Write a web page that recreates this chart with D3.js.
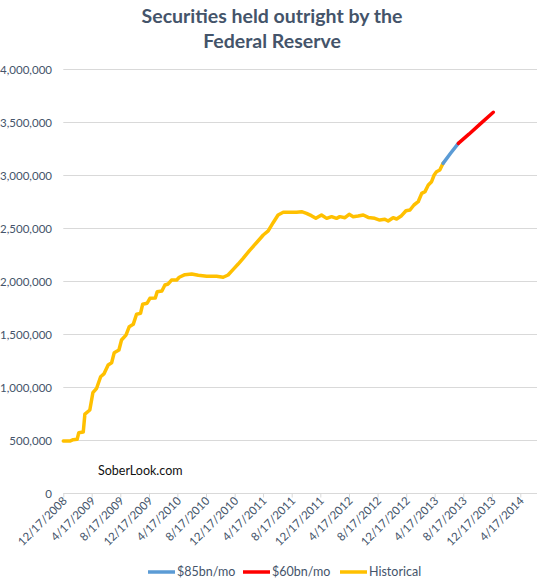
<!DOCTYPE html>
<html><head><meta charset="utf-8">
<script src="https://cdn.jsdelivr.net/npm/d3@7"></script>
<style>
html,body{margin:0;padding:0;background:#fff;}
svg{display:block;font-family:Lato,"Open Sans",sans-serif;}
</style></head>
<body>
<svg id="chart" width="537" height="582"></svg>
<script>
// ---- data (values in $ millions) ----
const titleLines = ["Securities held outright by the", "Federal Reserve"];
const yTicks = [0, 500000, 1000000, 1500000, 2000000, 2500000, 3000000, 3500000, 4000000];
const xTickLabels = ["12/17/2008","4/17/2009","8/17/2009","12/17/2009","4/17/2010","8/17/2010","12/17/2010","4/17/2011","8/17/2011","12/17/2011","4/17/2012","8/17/2012","12/17/2012","4/17/2013","8/17/2013","12/17/2013","4/17/2014"];
const seriesNames = ["$85bn/mo", "$60bn/mo", "Historical"];

const histDates = ["2008-12-17","2009-01-14","2009-01-28","2009-02-14","2009-02-21","2009-03-12","2009-03-19","2009-04-09","2009-04-22","2009-05-08","2009-05-25","2009-06-08","2009-06-26","2009-07-11","2009-07-22","2009-08-11","2009-08-22","2009-09-10","2009-09-24","2009-10-11","2009-10-25","2009-11-11","2009-11-20","2009-12-09","2009-12-21","2010-01-13","2010-01-21","2010-02-10","2010-02-23","2010-03-09","2010-03-23","2010-04-14","2010-04-25","2010-05-19","2010-06-17","2010-07-15","2010-08-20","2010-10-01","2010-10-29","2010-11-19","2010-12-11","2011-01-01","2011-01-22","2011-02-20","2011-03-20","2011-04-18","2011-05-09","2011-05-30","2011-06-20","2011-07-12","2011-08-23","2011-09-07","2011-09-28","2011-10-19","2011-11-09","2011-11-28","2011-12-22","2012-01-13","2012-02-03","2012-02-24","2012-03-09","2012-03-31","2012-04-18","2012-05-05","2012-05-26","2012-06-17","2012-07-08","2012-08-05","2012-08-26","2012-09-17","2012-10-01","2012-10-22","2012-11-06","2012-11-27","2012-12-16","2013-01-02","2013-01-19","2013-02-06","2013-02-21","2013-03-07","2013-03-21","2013-04-04","2013-04-15","2013-04-25","2013-05-09","2013-05-23"];
const histValues = [490000,490000,503000,506000,569000,575000,745000,783000,946000,988000,1097000,1123000,1208000,1229000,1324000,1349000,1443000,1490000,1569000,1591000,1686000,1695000,1780000,1790000,1837000,1840000,1899000,1906000,1962000,1972000,2009000,2009000,2035000,2060000,2066000,2054000,2044000,2044000,2035000,2057000,2110000,2160000,2214000,2292000,2361000,2434000,2472000,2550000,2623000,2648000,2648000,2648000,2654000,2638000,2616000,2591000,2623000,2591000,2607000,2591000,2607000,2597000,2629000,2607000,2613000,2623000,2600000,2591000,2575000,2582000,2566000,2597000,2585000,2616000,2663000,2670000,2717000,2748000,2827000,2843000,2906000,2937000,3000000,3031000,3047000,3110000];

const taper85Dates = ["2013-05-23","2013-06-24","2013-07-27"];
const taper85Values = [3110000,3205000,3299000];
const taper60Dates = ["2013-07-27","2013-09-10","2013-10-25","2013-12-23"];
const taper60Values = [3299000,3385000,3475000,3592000];

// ---- layout ----
const svg = d3.select("#chart");
const parse = d3.timeParse("%Y-%m-%d");
const parseTick = d3.timeParse("%m/%d/%Y");
const textCol = "#44546a";
const gridCol = "#d9d9d9";

const x = d3.scaleTime()
  .domain([parseTick("12/17/2008"), parseTick("4/17/2014")])
  .range([63.3, 520.3]);
const y = d3.scaleLinear().domain([0, 4000000]).range([493, 69]);
const xEnd = 560;

// title
svg.append("g").selectAll("text").data(titleLines).join("text")
  .attr("x", 272).attr("y", (d,i) => 23 + i*25)
  .attr("text-anchor", "middle")
  .attr("font-weight", "bold").attr("font-size", 19.5)
  .attr("fill", textCol).text(d => d);

// gridlines
svg.append("g").selectAll("line").data(yTicks.filter(d => d > 0)).join("line")
  .attr("x1", 63.3).attr("x2", xEnd)
  .attr("y1", d => y(d) + 0.5).attr("y2", d => y(d) + 0.5)
  .attr("stroke", gridCol).attr("stroke-width", 1);

// y axis labels
const yAxis = d3.axisLeft(y).tickValues(yTicks).tickSize(0).tickPadding(0)
  .tickFormat(d3.format(","));
const gy = svg.append("g").attr("transform", "translate(52,0)").call(yAxis);
gy.select(".domain").remove();
gy.selectAll("text").attr("fill", textCol).attr("font-size", 11.5)
  .attr("font-family", "Lato, sans-serif").attr("dy", "0.35em");

// x axis
const xTicks = xTickLabels.map(parseTick);
const xAxis = d3.axisBottom(x).tickValues(xTicks).tickSize(4).tickPadding(0)
  .tickFormat(d3.timeFormat("%-m/%-d/%Y"));
const gx = svg.append("g").attr("transform", "translate(0,493.5)").call(xAxis);
gx.select(".domain").attr("d", `M63.3,0H${xEnd}`).attr("stroke", gridCol);
gx.selectAll(".tick line").attr("stroke", gridCol);
gx.selectAll("text")
  .attr("fill", textCol).attr("font-size", 11.5).attr("font-family", "Lato, sans-serif")
  .attr("text-anchor", "end").attr("dy", null).attr("y", 0)
  .attr("transform", "translate(4,8) rotate(-45)");

// lines
const line = d3.line().x(d => x(d[0])).y(d => y(d[1]));
function series(dates, vals) { return dates.map((d,i) => [parse(d), vals[i]]); }
const seriesData = [
  {name: seriesNames[2], color: "#ffc000", pts: series(histDates, histValues)},
  {name: seriesNames[0], color: "#5b9bd5", pts: series(taper85Dates, taper85Values)},
  {name: seriesNames[1], color: "#ff0000", pts: series(taper60Dates, taper60Values)}
];
svg.append("g").selectAll("path").data(seriesData).join("path")
  .attr("d", d => line(d.pts))
  .attr("fill", "none").attr("stroke", d => d.color)
  .attr("stroke-width", 3.5).attr("stroke-linejoin", "round").attr("stroke-linecap", "round");

// watermark
svg.append("text").attr("x", 98).attr("y", 475)
  .attr("font-size", 12.5).attr("fill", "#111").attr("font-family", "Lato, sans-serif")
  .text("SoberLook.com");

// legend
const legendItems = [
  {name: seriesNames[0], color: "#5b9bd5", x: 148},
  {name: seriesNames[1], color: "#ff0000", x: 243},
  {name: seriesNames[2], color: "#ffc000", x: 340}
];
const lg = svg.append("g").selectAll("g").data(legendItems).join("g")
  .attr("transform", d => `translate(${d.x},572)`);
lg.append("line").attr("x1", 0).attr("x2", 27).attr("y1", 0).attr("y2", 0)
  .attr("stroke", d => d.color).attr("stroke-width", 3.5);
lg.append("text").attr("x", 29).attr("y", 0).attr("dy", "0.35em")
  .attr("font-size", 12.5).attr("fill", textCol).attr("font-family", "Lato, sans-serif")
  .text(d => d.name);
</script>
</body></html>
